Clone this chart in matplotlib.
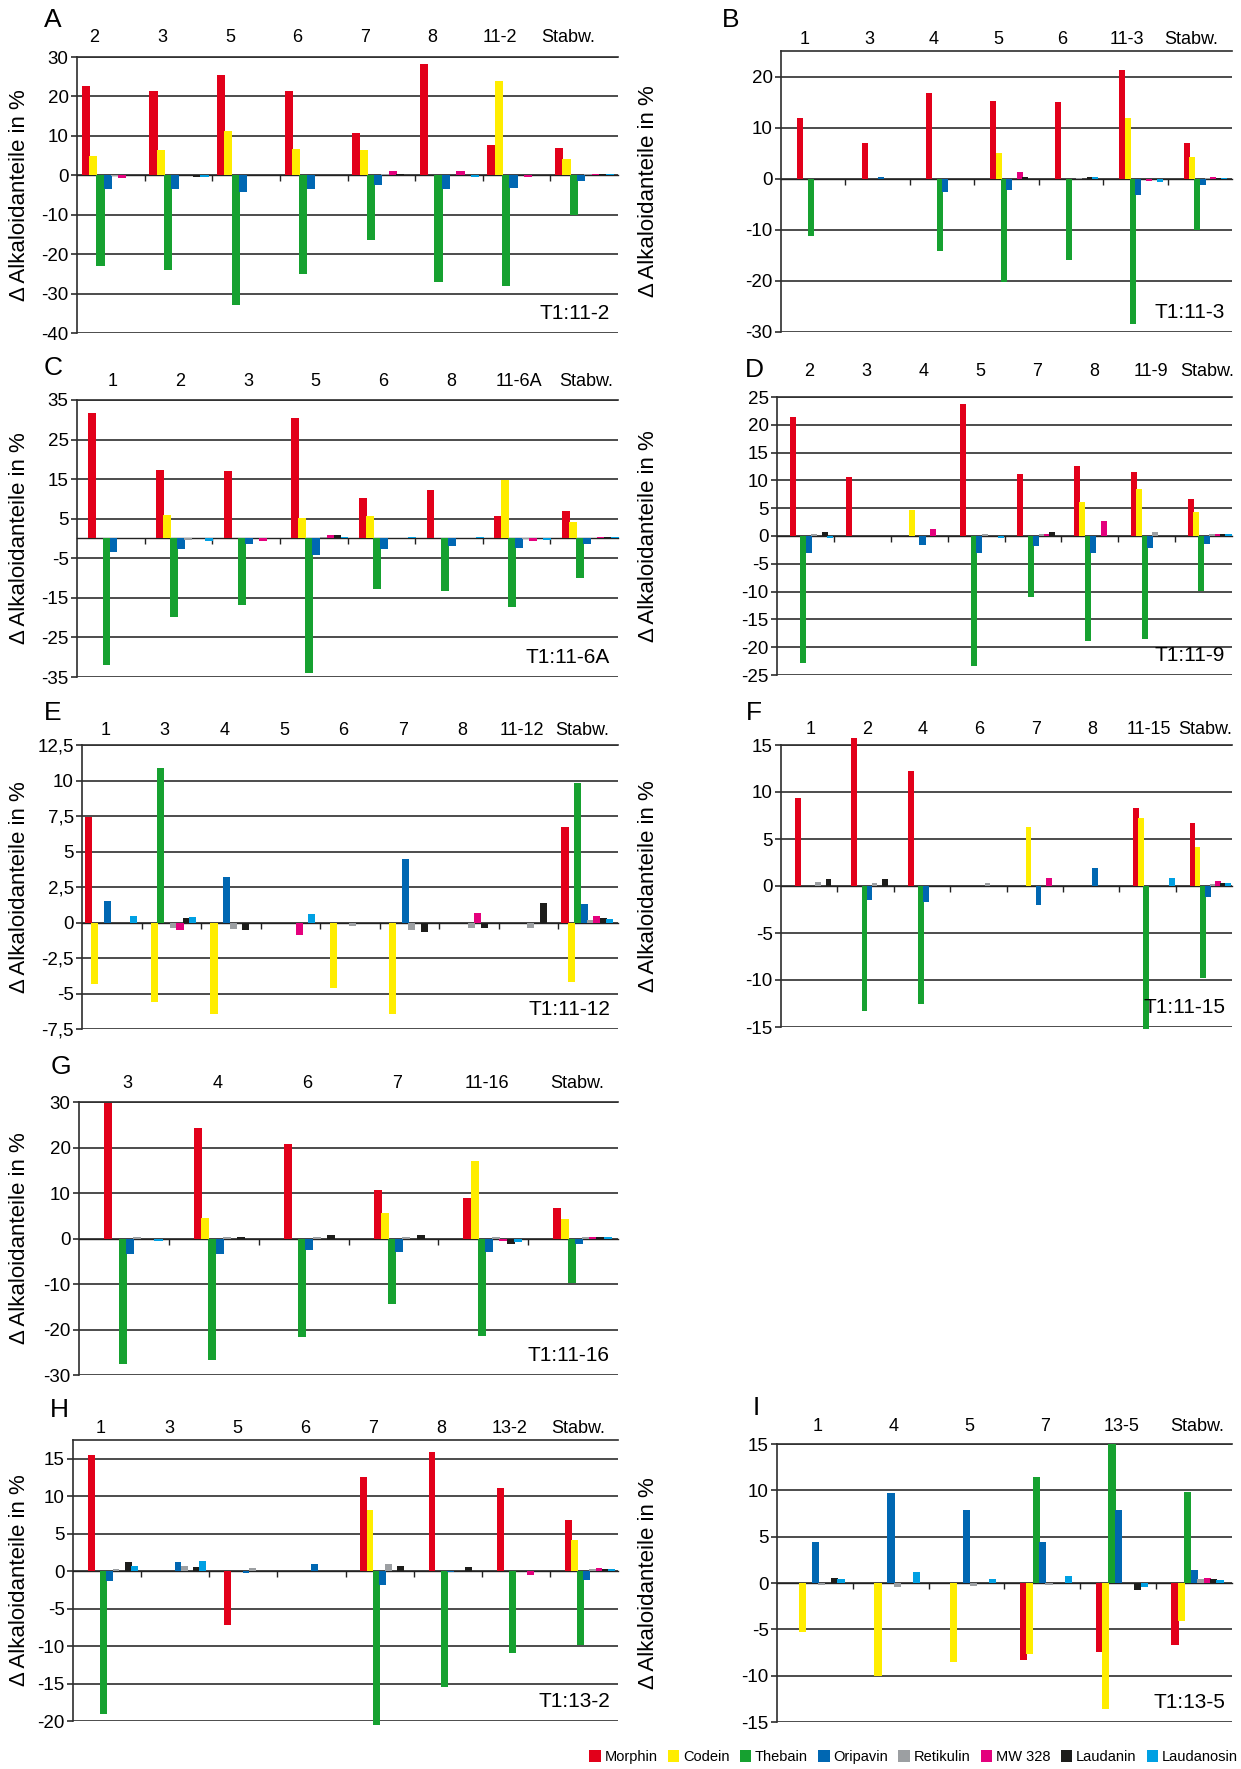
#! /usr/bin/env python3

import numpy as np
import matplotlib
matplotlib.use("Agg")
import matplotlib.pyplot as plt
from matplotlib.patches import Patch
from matplotlib.ticker import FuncFormatter

# series (alkaloids) in bar order
series = ["Morphin", "Codein", "Thebain", "Oripavin", "Retikulin", "MW 328", "Laudanin", "Laudanosin"]
colors = ["#e2001a", "#ffed00", "#16a130", "#0067b2", "#9c9fa2", "#e4007d", "#1d1d1b", "#00a0e3"]

# each row: one group, values in series order
a_cats = ["2", "3", "5", "6", "7", "8", "11-2", "Stabw."]
a_vals = [[22.7, 4.8, -23.1, -3.4, -0.3, -0.8, 0, 0],
          [21.3, 6.5, -24.1, -3.4, 0, 0, -0.5, -0.5],
          [25.4, 11.3, -32.9, -4.3, 0, 0, 0, 0],
          [21.3, 6.7, -25.1, -3.4, 0, 0, 0, 0],
          [10.6, 6.5, -16.4, -2.5, 0.3, 1.0, 0.4, 0],
          [28.1, 0, -27.1, -3.4, 0, 1.0, 0, -0.5],
          [7.6, 23.9, -28.1, -3.1, 0, -0.4, 0, 0],
          [6.8, 4.1, -10.0, -1.4, 0.2, 0.4, 0.4, 0.4]]

b_cats = ["1", "3", "4", "5", "6", "11-3", "Stabw."]
b_vals = [[11.8, 0, -11.3, 0, 0, 0, 0, 0],
          [6.9, 0, 0, 0.4, 0, 0, 0, 0],
          [16.8, 0, -14.1, -2.6, 0, 0, 0, 0],
          [15.3, 5.0, -20.2, -2.2, 0, 1.3, 0.4, 0],
          [15.1, 0, -16.0, 0, 0.1, 0, 0.4, 0.4],
          [21.2, 11.8, -28.4, -3.1, 0, -0.5, 0, -0.7],
          [7.0, 4.3, -10.0, -1.3, 0.2, 0.4, 0.2, 0.2]]

c_cats = ["1", "2", "3", "5", "6", "8", "11-6A", "Stabw."]
c_vals = [[31.7, 0, -32.0, -3.4, 0, 0, 0, 0],
          [17.4, 5.9, -19.8, -2.7, -0.3, 0, 0, -0.6],
          [17.1, 0, -16.7, -1.4, 0, -0.6, 0, 0],
          [30.4, 5.1, -34.1, -4.1, 0.3, 0.8, 0.8, 0.5],
          [10.3, 5.6, -12.7, -2.6, 0, 0, 0, 0.4],
          [12.2, 0, -13.3, -1.8, 0, 0, 0, 0.5],
          [5.7, 14.7, -17.3, -2.3, -0.2, -0.6, 0, -0.3],
          [6.9, 4.2, -9.9, -1.4, 0.2, 0.5, 0.3, 0.3]]

d_cats = ["2", "3", "4", "5", "7", "8", "11-9", "Stabw."]
d_vals = [[21.4, 0, -22.9, -3.1, 0.4, 0, 0.8, -0.35],
          [10.6, 0, 0, 0, 0, 0, 0, 0],
          [0, 4.7, 0, -1.6, 0, 1.2, 0, 0],
          [23.7, 0, -23.3, -3.0, 0.35, 0, 0, -0.3],
          [11.2, 0, -11.0, -1.8, 0.35, 0.4, 0.65, 0],
          [12.6, 6.2, -18.8, -3.1, 0, 2.7, 0, 0],
          [11.6, 8.5, -18.6, -2.2, 0.65, 0, 0, 0],
          [6.7, 4.3, -9.9, -1.4, 0.3, 0.4, 0.3, 0.35]]

e_cats = ["1", "3", "4", "5", "6", "7", "8", "11-12", "Stabw."]
e_vals = [[7.4, -4.3, 0, 1.5, 0, 0, 0, 0.45],
          [0, -5.6, 10.85, 0, -0.4, -0.55, 0.35, 0.4],
          [0, -6.45, 0, 3.2, -0.45, 0, -0.55, 0],
          [0, 0, 0, 0, 0, -0.9, 0, 0.6],
          [0, -4.6, 0, 0, -0.25, 0, 0, 0],
          [0, -6.45, 0, 4.45, -0.5, 0, -0.7, 0],
          [0, 0, 0, 0, -0.4, 0.65, -0.4, 0],
          [0, 0, 0, 0, -0.4, 0, 1.4, 0],
          [6.75, -4.2, 9.85, 1.3, 0.2, 0.45, 0.3, 0.25]]

f_cats = ["1", "2", "4", "6", "7", "8", "11-15", "Stabw."]
f_vals = [[9.4, 0, 0, 0, 0.4, 0, 0.75, 0],
          [15.7, 0, -13.35, -1.5, 0.3, 0, 0.7, 0],
          [12.2, 0, -12.55, -1.75, 0, 0, 0, 0],
          [0, 0, 0, 0, 0.3, 0, 0, 0],
          [0, 6.3, 0, -2.0, 0, 0.9, 0, 0],
          [0, 0, 0, 1.95, 0, 0, 0, 0],
          [8.3, 7.2, -15.2, 0, 0, 0, 0, 0.9],
          [6.75, 4.15, -9.75, -1.2, 0.2, 0.55, 0.3, 0.3]]

g_cats = ["3", "4", "6", "7", "11-16", "Stabw."]
g_vals = [[29.8, 0, -27.5, -3.3, 0.3, 0, 0, -0.45],
          [24.3, 4.4, -26.6, -3.4, 0.3, 0, 0.35, 0],
          [20.8, 0, -21.7, -2.6, 0.3, 0, 0.7, 0],
          [10.6, 5.7, -14.3, -3.0, 0.3, 0, 0.7, 0],
          [8.8, 17.1, -21.5, -3.0, 0.35, -0.45, -1.1, -0.8],
          [6.7, 4.3, -9.85, -1.25, 0.3, 0.4, 0.3, 0.35]]

h_cats = ["1", "3", "5", "6", "7", "8", "13-2", "Stabw."]
h_vals = [[15.55, 0, -19.0, -1.25, 0.3, 0, 1.2, 0.65],
          [0, 0, 0, 1.2, 0.7, 0, 0.6, 1.35],
          [-7.2, 0, 0, -0.3, 0.45, 0, 0, 0],
          [0, 0, 0, 0.9, 0, 0, 0, 0],
          [12.5, 8.1, -20.5, -1.8, 0.9, 0, 0.7, 0],
          [15.9, 0, -15.5, -0.15, 0, 0, 0.6, 0],
          [11.1, 0, -10.9, 0, 0, -0.5, 0, 0],
          [6.8, 4.1, -9.8, -1.2, 0.3, 0.45, 0.3, 0.3]]

i_cats = ["1", "4", "5", "7", "13-5", "Stabw."]
i_vals = [[0, -5.3, 0, 4.4, -0.2, 0, 0.5, 0.4],
          [0, -10.0, 0, 9.7, -0.4, 0, 0, 1.15],
          [0, -8.5, 0, 7.85, -0.3, 0, 0, 0.4],
          [-8.3, -7.65, 11.4, 4.45, -0.25, 0, 0, 0.8],
          [-7.4, -13.6, 15.0, 7.85, 0, 0, -0.8, -0.4],
          [-6.7, -4.1, 9.8, 1.4, 0.4, 0.5, 0.4, 0.3]]

W, H = 1241, 1769
plt.rcParams['font.family'] = ['Liberation Sans', 'DejaVu Sans']
plt.rcParams['axes.unicode_minus'] = False

fig = plt.figure(figsize=(W / 100, H / 100), dpi=100)

# letter, cats, vals, tag, rect px (l, r, t, b), (ymin, ymax, step), spacing, first bar offset, label pos, label gap px, letter px
panels = [
    ("A", a_cats, a_vals, "T1:11-2", (77, 618, 57, 333), (-40, 30, 10), 0.108, 0.07, 0.26, 20, (53, 20)),
    ("B", b_cats, b_vals, "T1:11-3", (781, 1232, 51, 332), (-30, 25, 10), 0.083, 0.25, 0.37, 12, (731, 20)),
    ("C", c_cats, c_vals, "T1:11-6A", (77, 618, 400, 677), (-35, 35, 10), 0.104, 0.17, 0.53, 19, (53, 368)),
    ("D", d_cats, d_vals, "T1:11-9", (777, 1232, 397, 675), (-25, 25, 5), 0.095, 0.22, 0.57, 26, (754, 370)),
    ("E", e_cats, e_vals, "T1:11-12", (82, 618, 745, 1029), (-7.5, 12.5, 2.5), 0.107, 0.05, 0.39, 15, (53, 713)),
    ("F", f_cats, f_vals, "T1:11-15", (781, 1232, 745, 1027), (-15, 15, 5), 0.09, 0.25, 0.52, 16, (754, 713)),
    ("G", g_cats, g_vals, "T1:11-16", (79, 618, 1102, 1375), (-30, 30, 10), 0.08, 0.28, 0.54, 19, (61, 1067)),
    ("H", h_cats, h_vals, "T1:13-2", (73, 618, 1440, 1721), (-20, 17.5, 5), 0.09, 0.22, 0.41, 12, (59, 1410)),
    ("I", i_cats, i_vals, "T1:13-5", (777, 1232, 1444, 1722), (-15, 15, 5), 0.085, 0.20, 0.54, 18, (756, 1408)),
]

grid_col = "#2e2e2e"

for letter, cats, vals, tag, rect, yr, sp, first, lab, gap, lpos in panels:
    l, r, t, b = rect
    ax = fig.add_axes([l / W, 1 - b / H, (r - l) / W, (b - t) / H])
    vals = np.array(vals)
    n = len(cats)
    idx = np.arange(n)
    bw = sp * 1.12

    # bars of each series
    for k in range(len(series)):
        xpos = idx - 0.5 + first + bw / 2 + k * sp
        ax.bar(xpos, vals[:, k], width=bw, color=colors[k], linewidth=0, zorder=3, clip_on=False)

    ymin, ymax, step = yr
    ticks = np.arange(ymin, ymax + 1e-6, step)
    if letter == "B":
        ticks = np.arange(-30, 21, 10)
    if letter == "H":
        ticks = np.arange(-20, 16, 5)
    ax.set_ylim(ymin, ymax)
    ax.set_xlim(-0.5, n - 0.5)
    ax.set_yticks(ticks)
    ax.yaxis.set_major_formatter(FuncFormatter(lambda v, p: ("%g" % v).replace(".", ",")))
    ax.yaxis.grid(True, color=grid_col, linewidth=1.2, zorder=1)
    ax.set_axisbelow(True)

    # x axis at zero with tick marks between groups
    ax.spines['bottom'].set_position(('data', 0))
    ax.spines['bottom'].set_color("#222222")
    ax.spines['bottom'].set_linewidth(1.0)
    ax.set_xticks(idx[:-1] + 0.5)
    ax.set_xticklabels([])
    ax.tick_params(axis='x', direction='out', length=4, width=1, color="#222222")
    ax.tick_params(axis='y', direction='out', length=4, width=1.2, color=grid_col, labelsize=13.5, pad=2)
    ax.spines['right'].set_visible(False)
    ax.spines['top'].set_color(grid_col)
    ax.spines['top'].set_linewidth(1.2)
    ax.spines['left'].set_color(grid_col)
    ax.spines['left'].set_linewidth(1.2)

    # category labels above the plot
    for i, c in enumerate(cats):
        ax.annotate(c, xy=(i - 0.5 + lab, 1), xycoords=('data', 'axes fraction'),
                    xytext=(0, gap * 0.72), textcoords='offset points',
                    ha='center', va='center', fontsize=13)

    ax.text(0.985, 0.035, tag, transform=ax.transAxes, ha='right', va='bottom', fontsize=15)
    fig.text(lpos[0] / W, 1 - lpos[1] / H, letter, ha='center', va='center', fontsize=19)

    # y label
    lx = 20 if l < 400 else 648
    fig.text(lx / W, 1 - ((t + b) / 2) / H, "Δ Alkaloidanteile in %", rotation=90,
             ha='center', va='center', fontsize=16)

handles = [Patch(facecolor=c, edgecolor='none') for c in colors]
fig.legend(handles, series, loc='center right', bbox_to_anchor=(1238 / W, 1 - 1757 / H),
           ncol=8, frameon=False, fontsize=10.5, handlelength=0.8, handleheight=0.8,
           handletextpad=0.25, columnspacing=0.7, borderpad=0, borderaxespad=0)

fig.savefig("out.png", dpi=100)
